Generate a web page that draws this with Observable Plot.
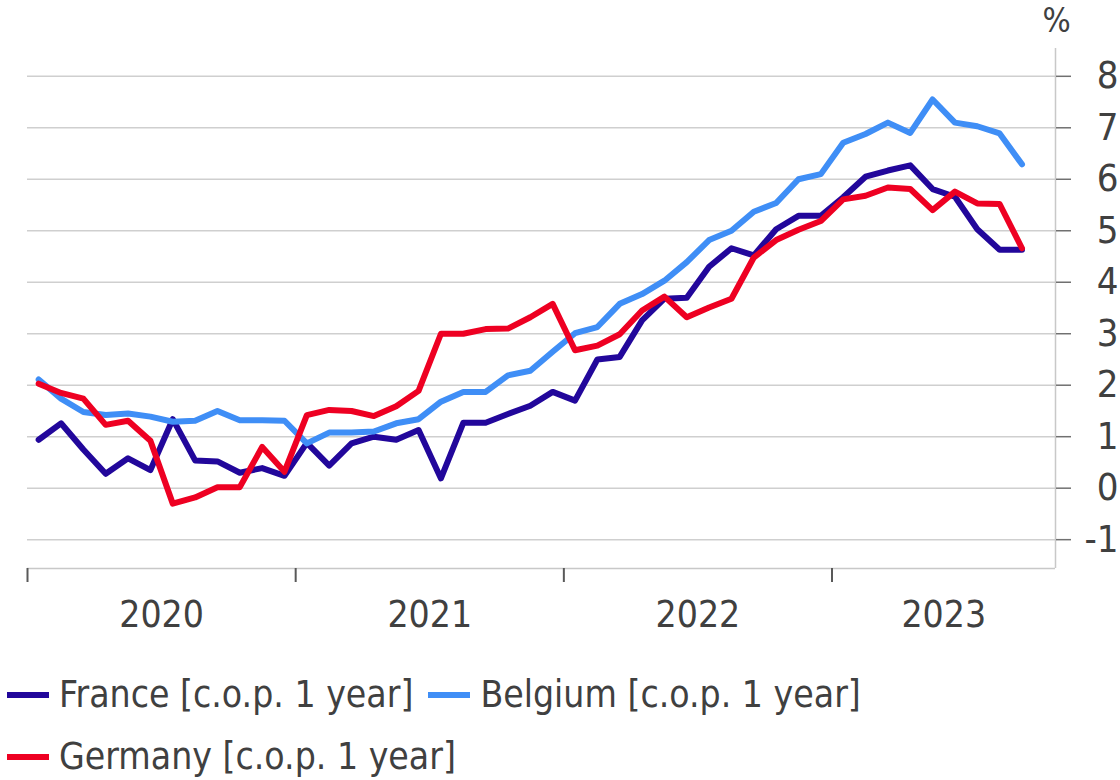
<!DOCTYPE html>
<html>
<head>
<meta charset="utf-8">
<script src="https://cdn.jsdelivr.net/npm/d3@7"></script>
<script src="https://cdn.jsdelivr.net/npm/@observablehq/plot@0.6"></script>
<style>
  html, body { margin: 0; padding: 0; background: #fff; }
  #chart { width: 1120px; }
  .legend { font-family: "DejaVu Sans Condensed", "DejaVu Sans", sans-serif; font-stretch: condensed; font-size: 37px; color: #404040; margin-top: 14px; }
  .row { height: 62px; line-height: 62px; display: flex; align-items: center; padding-left: 7px; }
  .item { display: inline-flex; align-items: center; margin-right: 15px; }
  .sw { width: 42px; height: 6px; margin-right: 10px; }
</style>
</head>
<body>
<div id="chart"></div>
<script>
// ---- data (monthly, Jan 2020 – Sep 2023) ----
const seriesNames = ["France [c.o.p. 1 year]", "Belgium [c.o.p. 1 year]", "Germany [c.o.p. 1 year]"];
const seriesColors = ["#22079b", "#3f8ef6", "#ee0022"];
const france = [0.94, 1.26, 0.75, 0.28, 0.58, 0.35, 1.34, 0.54, 0.52, 0.30, 0.39, 0.24,
                0.88, 0.44, 0.87, 1.00, 0.94, 1.13, 0.19, 1.27, 1.27, 1.44, 1.60, 1.87,
                1.70, 2.50, 2.55, 3.26, 3.68, 3.70, 4.30, 4.66, 4.52, 5.03, 5.29, 5.29,
                5.65, 6.05, 6.17, 6.27, 5.81, 5.66, 5.03, 4.63, 4.63];
const belgium = [2.11, 1.74, 1.48, 1.42, 1.45, 1.39, 1.29, 1.31, 1.50, 1.32, 1.32, 1.31,
                 0.87, 1.08, 1.08, 1.10, 1.26, 1.34, 1.68, 1.87, 1.87, 2.19, 2.28, 2.65,
                 3.01, 3.13, 3.58, 3.77, 4.03, 4.39, 4.82, 5.00, 5.37, 5.54, 6.00, 6.10,
                 6.71, 6.88, 7.10, 6.90, 7.55, 7.10, 7.03, 6.89, 6.29];
const germany = [2.03, 1.85, 1.74, 1.23, 1.31, 0.92, -0.30, -0.18, 0.02, 0.02, 0.80, 0.32,
                 1.42, 1.52, 1.50, 1.40, 1.59, 1.89, 3.00, 3.00, 3.09, 3.10, 3.32, 3.58,
                 2.68, 2.77, 2.99, 3.45, 3.72, 3.32, 3.51, 3.68, 4.48, 4.82, 5.02, 5.19,
                 5.61, 5.68, 5.84, 5.81, 5.40, 5.76, 5.53, 5.52, 4.66];
const years = ["2020", "2021", "2022", "2023"];
const yTicks = [-1, 0, 1, 2, 3, 4, 5, 6, 7, 8];
const unitLabel = "%";
const nSlots = 46; // month slots on the category axis (Jan 2020 – Oct 2023)

const values = [france, belgium, germany];
const data = values.flatMap((arr, k) => arr.map((v, i) => ({series: seriesNames[k], i: i + 0.5, v})));
const yearStarts = years.map((y, k) => k * 12);
const yearMids = years.map((y, k) => (k * 12 + Math.min((k + 1) * 12, nSlots)) / 2);
const yMin = -1.56, yMax = 8.54;

const font = "'DejaVu Sans Condensed', 'DejaVu Sans', sans-serif";

const chart = Plot.plot({
  width: 1120,
  height: 650,
  marginLeft: 27,
  marginRight: 65,
  marginTop: 48,
  marginBottom: 82,
  style: {fontFamily: font, fontStretch: "condensed", background: "#fff", overflow: "visible"},
  x: {domain: [0, nSlots], axis: null},
  y: {domain: [yMin, yMax], axis: null},
  color: {domain: seriesNames, range: seriesColors},
  marks: [
    Plot.ruleY(yTicks, {stroke: "#cfcfcf", strokeWidth: 1.5}),
    Plot.ruleY([yMin], {stroke: "#c8c8c8", strokeWidth: 1.5}),
    Plot.ruleX([nSlots], {stroke: "#c8c8c8", strokeWidth: 1.5}),
    Plot.axisY({anchor: "right", ticks: yTicks, tickSize: 15, tickPadding: 48, textAnchor: "end",
                tickFormat: d => d < 0 ? "-" + Math.abs(d) : String(d),
                fontSize: 38, stroke: "#707070", strokeWidth: 1.5, fill: "#404040", label: null}),
    Plot.axisX({anchor: "bottom", ticks: yearStarts, tickSize: 14, tickFormat: () => "",
                stroke: "#595959", strokeWidth: 2, label: null}),
    Plot.axisX({anchor: "bottom", ticks: yearMids, tickSize: 0, tickPadding: 32,
                tickFormat: (d) => years[yearMids.indexOf(d)], fontSize: 37, fill: "#404040", label: null}),
    Plot.text([unitLabel], {frameAnchor: "top-right", dy: -40, dx: 1, textAnchor: "middle",
                fontSize: 33, fill: "#404040"}),
    Plot.lineY(data, {x: "i", y: "v", z: "series", stroke: "series", strokeWidth: 6,
                      strokeLinejoin: "round", strokeLinecap: "round"})
  ]
});
document.getElementById("chart").appendChild(chart);

// legend
const legend = document.createElement("div");
legend.className = "legend";
const rows = [[0, 1], [2]];
rows.forEach(r => {
  const row = document.createElement("div");
  row.className = "row";
  r.forEach(k => {
    const it = document.createElement("span");
    it.className = "item";
    const sw = document.createElement("span");
    sw.className = "sw";
    sw.style.background = seriesColors[k];
    const tx = document.createElement("span");
    tx.textContent = seriesNames[k];
    it.appendChild(sw); it.appendChild(tx);
    row.appendChild(it);
  });
  legend.appendChild(row);
});
document.getElementById("chart").appendChild(legend);
</script>
</body>
</html>
